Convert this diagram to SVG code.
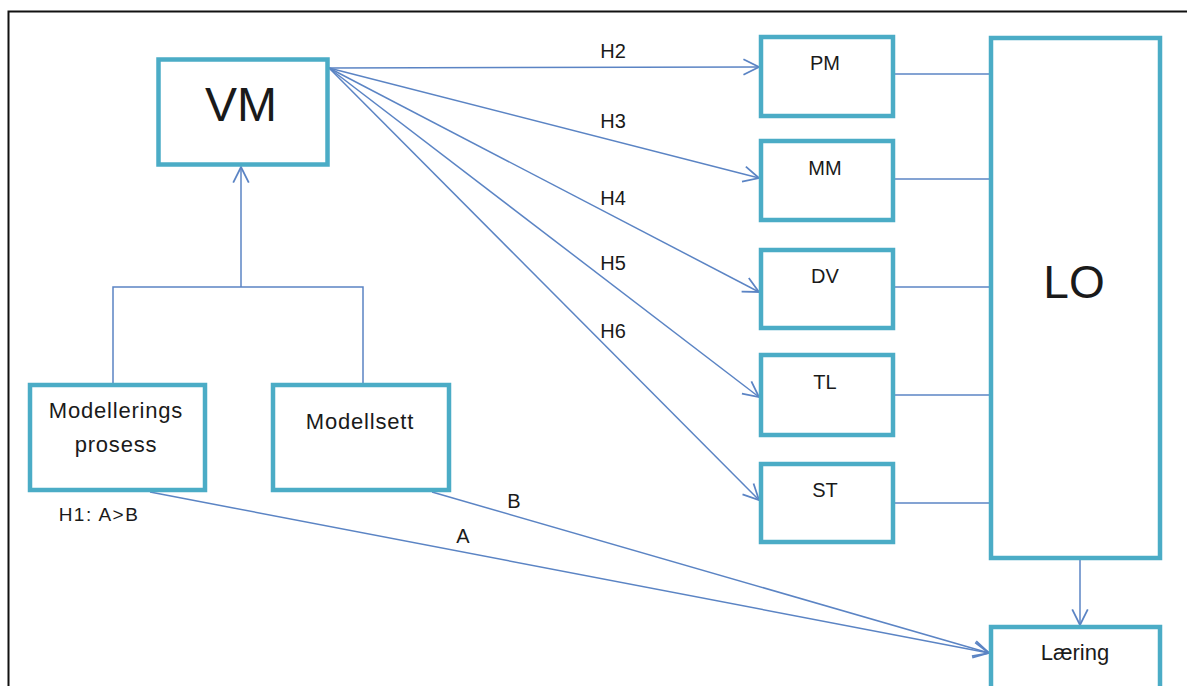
<svg xmlns="http://www.w3.org/2000/svg" width="1187" height="686" viewBox="0 0 1187 686">
  <defs>
    <marker id="arrow" markerUnits="userSpaceOnUse" markerWidth="20" markerHeight="20" viewBox="-16 -9 18 18" refX="0" refY="0" orient="auto">
      <path d="M-14,-7 L0,0 L-14,7" fill="none" stroke="#5B84C4" stroke-width="1.6"/>
    </marker>
  </defs>
  <style>
    .box { fill: #ffffff; stroke: #4BACC6; stroke-width: 4.5; }
    .link { fill: none; stroke: #5B84C4; stroke-width: 1.5; }
    .arr { marker-end: url(#arrow); }
    text { font-family: "Liberation Sans", Arial, sans-serif; fill: #1a1a1a; text-anchor: middle; }
    .big { font-size: 48px; }
    .lbl { font-size: 20px; }
    .mid { font-size: 22px; letter-spacing: 0.8px; }
    .edge { font-size: 20px; }
  </style>

  <rect width="1187" height="686" fill="#ffffff"/>
  <!-- frame -->
  <path d="M8.5,686 V11.5 H1187" fill="none" stroke="#111111" stroke-width="2"/>

  <!-- connectors -->
  <g id="connectors">
    <!-- inputs joined into VM -->
    <path class="link" d="M113,385 V287 H363 V385"/>
    <path class="link arr" d="M241,287 V167"/>
    <!-- VM to the five factors -->
    <path class="link arr" d="M329,68 L759,67"/>
    <path class="link arr" d="M329,68 L759,178"/>
    <path class="link arr" d="M329,68 L759,292"/>
    <path class="link arr" d="M329,68 L759,397"/>
    <path class="link arr" d="M329,68 L759,500"/>
    <!-- factors into LO -->
    <path class="link" d="M895,74 H989"/>
    <path class="link" d="M895,179 H989"/>
    <path class="link" d="M895,287 H989"/>
    <path class="link" d="M895,395 H989"/>
    <path class="link" d="M895,503 H989"/>
    <!-- LO to Læring -->
    <path class="link arr" d="M1080,560 V625"/>
    <!-- A and B paths to Læring -->
    <path class="link arr" d="M150,492 L989,653"/>
    <path class="link arr" d="M432,492 L989,653"/>
    <text class="edge" x="613" y="58">H2</text>
    <text class="edge" x="613" y="128">H3</text>
    <text class="edge" x="613" y="205">H4</text>
    <text class="edge" x="613" y="270">H5</text>
    <text class="edge" x="613" y="338">H6</text>
    <text class="edge" x="463" y="543">A</text>
    <text class="edge" x="514" y="508">B</text>
    <text class="edge" x="99" y="521" style="font-size:19px;letter-spacing:1.5px">H1: A&gt;B</text>
  </g>

  <g id="node-vm">
    <rect class="box" x="158.5" y="59.5" width="169" height="105"/>
    <text class="big" x="241" y="121">VM</text>
  </g>
  <g id="node-modellerings">
    <rect class="box" x="30" y="385" width="175" height="105"/>
    <text class="mid" x="116" y="418">Modellerings</text>
    <text class="mid" x="116" y="452">prosess</text>
  </g>
  <g id="node-modellsett">
    <rect class="box" x="273" y="385" width="176" height="105"/>
    <text class="mid" x="360" y="429">Modellsett</text>
  </g>
  <g id="node-pm">
    <rect class="box" x="761" y="37" width="132" height="79"/>
    <text class="lbl" x="825" y="70">PM</text>
  </g>
  <g id="node-mm">
    <rect class="box" x="761" y="141" width="132" height="79"/>
    <text class="lbl" x="825" y="175">MM</text>
  </g>
  <g id="node-dv">
    <rect class="box" x="761" y="250" width="132" height="78"/>
    <text class="lbl" x="825" y="283">DV</text>
  </g>
  <g id="node-tl">
    <rect class="box" x="761" y="355" width="132" height="80"/>
    <text class="lbl" x="825" y="389">TL</text>
  </g>
  <g id="node-st">
    <rect class="box" x="761" y="464" width="132" height="78"/>
    <text class="lbl" x="825" y="497">ST</text>
  </g>
  <g id="node-lo">
    <rect class="box" x="991" y="38" width="169" height="520"/>
    <text class="big" x="1074" y="298" style="font-size:46px">LO</text>
  </g>
  <g id="node-laering">
    <rect class="box" x="991" y="627" width="169" height="70"/>
    <text class="mid" x="1075" y="660" style="letter-spacing:0">Læring</text>
  </g>
</svg>
